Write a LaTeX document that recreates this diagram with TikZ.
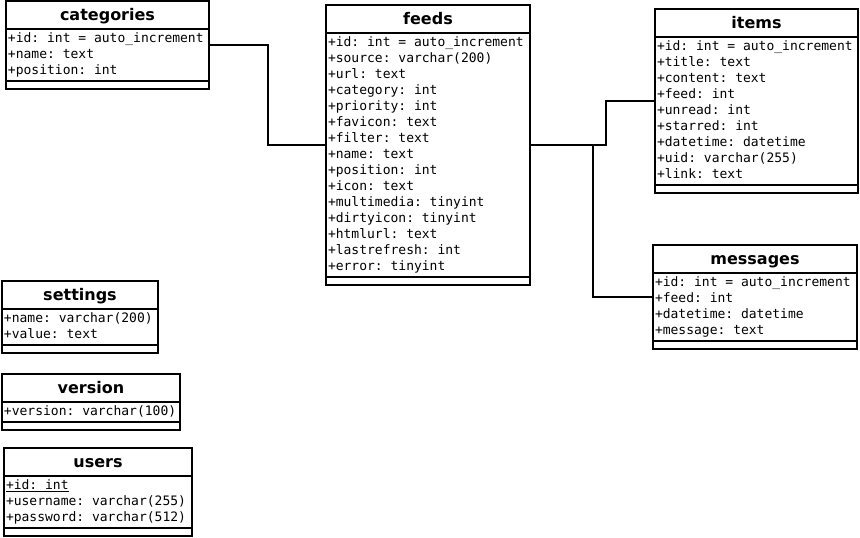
\documentclass[tikz,border=0pt]{standalone}
\usepackage{fontspec}
\setmainfont{DejaVu Sans}
\setsansfont{DejaVu Sans}
\setmonofont{DejaVu Sans Mono}
\usetikzlibrary{shapes.multipart,calc}
\newcommand{\fld}{\strut}
\newcommand{\tname}[1]{\rule[-7pt]{0pt}{24pt}{\sffamily\bfseries\fontsize{16}{20}\selectfont #1}}
\newcommand{\tend}{\rule{0pt}{4pt}}

\begin{document}
\begin{tikzpicture}[x=1pt,y=-1pt,line width=2pt,
  table/.style={rectangle split,rectangle split parts=3,draw,anchor=north west,
    outer sep=0pt,inner xsep=2pt,inner ysep=1pt,align=left,
    rectangle split part align={center,left,left},
    font=\ttfamily\fontsize{13}{16}\selectfont},
  link/.style={draw,line width=2pt}]
  \useasboundingbox (0,0) rectangle (860,538);
  \node[table,minimum width=203pt] (categories) at (6,1) {\tname{categories}
    \nodepart{two}\fld+id: int = auto\_increment\\\fld+name: text\\\fld+position: int
    \nodepart{three}\tend};
  \node[table,minimum width=204pt] (feeds) at (326,5) {\tname{feeds}
    \nodepart{two}\fld+id: int = auto\_increment\\\fld+source: varchar(200)\\\fld+url: text\\
    \fld+category: int\\\fld+priority: int\\\fld+favicon: text\\\fld+filter: text\\
    \fld+name: text\\\fld+position: int\\\fld+icon: text\\\fld+multimedia: tinyint\\
    \fld+dirtyicon: tinyint\\\fld+htmlurl: text\\\fld+lastrefresh: int\\\fld+error: tinyint
    \nodepart{three}\tend};
  \node[table,minimum width=203pt] (items) at (655,9) {\tname{items}
    \nodepart{two}\fld+id: int = auto\_increment\\\fld+title: text\\\fld+content: text\\
    \fld+feed: int\\\fld+unread: int\\\fld+starred: int\\\fld+datetime: datetime\\
    \fld+uid: varchar(255)\\\fld+link: text
    \nodepart{three}\tend};
  \node[table,minimum width=204pt] (messages) at (653,245) {\tname{messages}
    \nodepart{two}\fld+id: int = auto\_increment\\\fld+feed: int\\\fld+datetime: datetime\\
    \fld+message: text
    \nodepart{three}\tend};
  \node[table,minimum width=156pt] (settings) at (2,281) {\tname{settings}
    \nodepart{two}\fld+name: varchar(200)\\\fld+value: text
    \nodepart{three}\tend};
  \node[table,minimum width=178pt] (version) at (2,374) {\tname{version}
    \nodepart{two}\fld+version: varchar(100)
    \nodepart{three}\tend};
  \node[table,minimum width=188pt] (users) at (4,448) {\tname{users}
    \nodepart{two}\fld\underline{+id: int}\\\fld+username: varchar(255)\\\fld+password: varchar(512)
    \nodepart{three}\tend};
  % relations
  \draw[link] (categories.east) -| ($(categories.east)!.5!(feeds.west)$) |- (feeds.west);
  \draw[link] (feeds.east) -- ++(76pt,0) |- (items.west);
  \draw[link] (feeds.east) -- ++(63pt,0) |- (messages.west);
\end{tikzpicture}
\end{document}
